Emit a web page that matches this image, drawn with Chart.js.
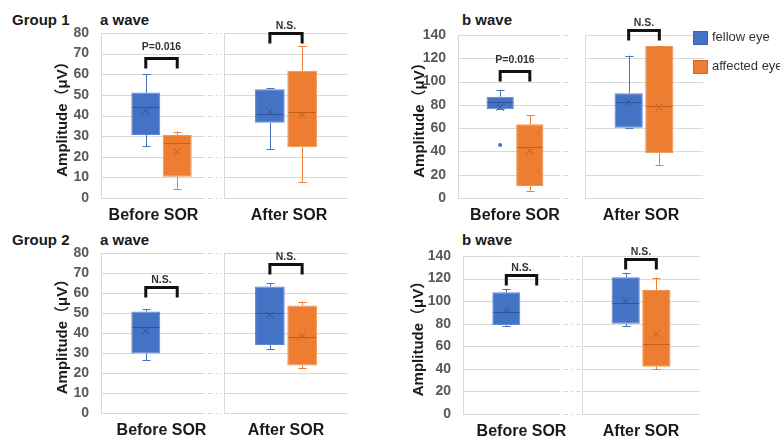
<!DOCTYPE html>
<html>
<head>
<meta charset="utf-8">
<script src="https://cdn.jsdelivr.net/npm/chart.js@4.4.0/dist/chart.umd.min.js"></script>
<style>
body{margin:0;width:780px;height:436px;background:#fff;position:relative;overflow:hidden;font-family:'Liberation Sans',Arial,sans-serif}
canvas{position:absolute}
.t{position:absolute;font-weight:bold;font-size:15px;color:#1a1a1a;line-height:17px;white-space:nowrap}
.sw{position:absolute;width:13px;height:12px;z-index:2}
.lt{position:absolute;font-size:13px;color:#333;line-height:15px;white-space:nowrap;z-index:2}
</style>
</head>
<body>
<div class="t" style="left:12px;top:11px">Group 1</div>
<div class="t" style="left:100px;top:11px">a wave</div>
<div class="t" style="left:462px;top:11px">b wave</div>
<div class="t" style="left:12px;top:231px">Group 2</div>
<div class="t" style="left:100px;top:231px">a wave</div>
<div class="t" style="left:462px;top:231px">b wave</div>

<canvas id="g1aB" width="184" height="215" style="left:40px;top:13px"></canvas>
<canvas id="g1aA" width="126" height="215" style="left:224px;top:13px"></canvas>
<canvas id="g1bB" width="174" height="215" style="left:400px;top:13px"></canvas>
<canvas id="g1bA" width="120" height="215" style="left:585px;top:13px"></canvas>
<canvas id="g2aB" width="184" height="203" style="left:40px;top:233px"></canvas>
<canvas id="g2aA" width="126" height="203" style="left:224px;top:233px"></canvas>
<canvas id="g2bB" width="182" height="203" style="left:400px;top:233px"></canvas>
<canvas id="g2bA" width="120" height="203" style="left:582px;top:233px"></canvas>

<div class="sw" style="left:693px;top:31px;background:#4472C4;border:1px solid #3a62ad"></div>
<div class="lt" style="left:712px;top:29px">fellow eye</div>
<div class="sw" style="left:693px;top:60px;background:#ED7D31;border:1px solid #d0692a"></div>
<div class="lt" style="left:712px;top:58px">affected eye</div>

<script>
const groups = ['Before SOR', 'After SOR'];
const seriesNames = ['fellow eye', 'affected eye'];

// each row: [min, Q1, median, Q3, max, mean]; first row Before SOR, second After SOR
const g1aFellow   = [[25.2, 30.5, 44.3, 51.1, 60.1, 42.3], [23.6, 36.5, 40.6, 52.7, 53.2, 41.9]];
const g1aAffected = [[4.4, 10.3, 26.8, 30.5, 32.2, 22.5], [7.9, 24.6, 41.9, 61.7, 73.7, 40.2]];
const g1bFellow   = [[76.2, 76.2, 82.2, 87.0, 92.8, 78.0], [60.2, 60.4, 82.7, 90.0, 122.3, 82.7]];
const g1bAffected = [[6.3, 10.3, 44.0, 63.3, 71.3, 40.6], [28.4, 38.4, 79.0, 130.6, 130.6, 78.0]];
const g1bFellowOutliers = [[45.5], []];
const g2aFellow   = [[26.5, 29.8, 43.2, 50.7, 52.0, 41.2], [31.8, 34.0, 50.2, 63.2, 64.8, 49.0]];
const g2aAffected = [null, [22.3, 23.7, 38.2, 53.8, 55.7, 38.5]];
const g2bFellow   = [[78.3, 78.9, 90.1, 107.8, 110.5, 92.1], [78.0, 80.0, 98.6, 121.1, 125.2, 100.1]];
const g2bAffected = [null, [39.6, 41.9, 61.8, 109.9, 120.8, 70.9]];

// height of the significance bracket (amplitude) and its label
const g1aBracket = [68, 80];
const g1bBracket = [109, 144.3];
const g2aBracket = [63.2, 74.3];
const g2bBracket = [123.2, 137.1];
const g1Sig = ['P=0.016', 'N.S.'];
const g2Sig = ['N.S.', 'N.S.'];

const aMax = 80, aStep = 10;
const bMax = 140, bStep = 20;

const gridColor = '#d9d9d9';
const fill = ['#4472C4', '#ED7D31'];
const edge = ['#5a86d6', '#f0944f'];
const dark = ['#2f5597', '#c0601f'];

function boxPlugin(p) {
    return {
        id: 'boxplot',
        beforeDatasetsDraw(chart) {
            const ctx = chart.ctx, a = chart.chartArea, y = chart.scales.y;
            ctx.save();
            ctx.lineWidth = 1;
            ctx.strokeStyle = gridColor;
            y.ticks.forEach(function (t) {
                const py = Math.round(y.getPixelForValue(t.value)) + 0.5;
                ctx.setLineDash([]);
                ctx.beginPath();
                ctx.moveTo(a.left, py);
                ctx.lineTo(a.right - p.gap, py);
                ctx.stroke();
                if (p.gap) {
                    ctx.setLineDash([5, 3, 2, 3]);
                    ctx.beginPath();
                    ctx.moveTo(a.right - p.gap + 3, py);
                    ctx.lineTo(a.right, py);
                    ctx.stroke();
                }
            });
            ctx.setLineDash([]);
            const lx = Math.round(a.left) + 0.5;
            ctx.beginPath();
            ctx.moveTo(lx, a.top);
            ctx.lineTo(lx, a.bottom);
            ctx.stroke();
            ctx.restore();
        },
        afterDatasetsDraw(chart) {
            const ctx = chart.ctx, y = chart.scales.y, x = chart.scales.x;
            ctx.save();
            for (let d = 0; d < 2; d++) {
                const s = p.stats[d];
                if (!s) continue;
                const bar = chart.getDatasetMeta(d).data[0];
                const cx = Math.round(bar.x) + 0.5, hw = bar.width / 2;
                ctx.lineWidth = 1;
                ctx.strokeStyle = fill[d];
                // whiskers
                ctx.beginPath();
                ctx.moveTo(cx, y.getPixelForValue(s[3]));
                ctx.lineTo(cx, y.getPixelForValue(s[4]));
                ctx.moveTo(cx, y.getPixelForValue(s[1]));
                ctx.lineTo(cx, y.getPixelForValue(s[0]));
                const top = Math.round(y.getPixelForValue(s[4])) + 0.5;
                const bot = Math.round(y.getPixelForValue(s[0])) + 0.5;
                ctx.moveTo(cx - 4, top); ctx.lineTo(cx + 4, top);
                ctx.moveTo(cx - 4, bot); ctx.lineTo(cx + 4, bot);
                ctx.stroke();
                // median
                ctx.strokeStyle = dark[d];
                const my = Math.round(y.getPixelForValue(s[2])) + 0.5;
                ctx.beginPath();
                ctx.moveTo(bar.x - hw + 1, my);
                ctx.lineTo(bar.x + hw - 1, my);
                ctx.stroke();
                // mean
                const mny = y.getPixelForValue(s[5]);
                ctx.beginPath();
                ctx.moveTo(bar.x - 3.5, mny - 3.5); ctx.lineTo(bar.x + 3.5, mny + 3.5);
                ctx.moveTo(bar.x + 3.5, mny - 3.5); ctx.lineTo(bar.x - 3.5, mny + 3.5);
                ctx.stroke();
                // outliers
                (p.outliers[d] || []).forEach(function (v) {
                    ctx.fillStyle = fill[d];
                    ctx.beginPath();
                    ctx.arc(bar.x, y.getPixelForValue(v), 2, 0, Math.PI * 2);
                    ctx.fill();
                });
            }
            // significance bracket between the two box centres
            const b0 = chart.getDatasetMeta(0).data[0];
            const mid = x.getPixelForValue(0);
            const x1 = b0.x, x2 = 2 * mid - b0.x;
            const by = Math.round(y.getPixelForValue(p.bracket)) + 0.5;
            ctx.strokeStyle = '#111';
            ctx.lineWidth = 3;
            ctx.lineJoin = 'miter';
            ctx.beginPath();
            ctx.moveTo(x1, by + 10);
            ctx.lineTo(x1, by);
            ctx.lineTo(x2, by);
            ctx.lineTo(x2, by + 10);
            ctx.stroke();
            ctx.fillStyle = '#333';
            ctx.font = "bold 10.5px 'Liberation Sans', Arial, sans-serif";
            ctx.textAlign = 'center';
            ctx.textBaseline = 'bottom';
            ctx.fillText(p.sig, (x1 + x2) / 2, by - (p.sig.charAt(0) === 'P' ? 6 : 2));
            ctx.restore();
        }
    };
}

function boxChart(id, p) {
    const f = p.stats[0], a = p.stats[1];
    return new Chart(document.getElementById(id), {
        type: 'bar',
        data: {
            labels: [p.label],
            datasets: [
                {label: seriesNames[0], data: [f ? [f[1], f[3]] : null], backgroundColor: fill[0], borderColor: edge[0],
                 borderWidth: 1, borderSkipped: false, categoryPercentage: 0.52, barPercentage: 0.92},
                {label: seriesNames[1], data: [a ? [a[1], a[3]] : null], backgroundColor: fill[1], borderColor: edge[1],
                 borderWidth: 1, borderSkipped: false, categoryPercentage: 0.52, barPercentage: 0.92}
            ]
        },
        options: {
            responsive: false,
            animation: false,
            events: [],
            layout: {padding: {top: p.padTop, right: 2, left: 0, bottom: 0}},
            plugins: {legend: {display: false}, tooltip: {enabled: false}},
            scales: {
                x: {
                    grid: {display: false, drawTicks: false},
                    border: {display: false},
                    ticks: {font: {size: 16, weight: 'bold', family: "'Liberation Sans', Arial, sans-serif"}, color: '#1a1a1a',
                            padding: 8, maxRotation: 0, autoSkip: false, labelOffset: p.labelOffset || 0},
                    afterFit: function (s) { s.height = p.xHeight; }
                },
                y: {
                    min: 0,
                    max: p.max,
                    grid: {display: false},
                    border: {display: false},
                    ticks: {display: p.axis, stepSize: p.step, padding: 4, color: '#595959',
                            font: {size: 14, weight: 'bold', family: "'Liberation Sans', Arial, sans-serif"}},
                    title: {display: p.axis, text: 'Amplitude（μV）', color: '#1a1a1a',
                            font: {size: 15, weight: 'bold', family: "'Liberation Sans', 'Noto Sans CJK JP', Arial, sans-serif"},
                            padding: {top: p.titlePad || 0, bottom: 0}},
                    afterFit: function (s) { s.width = p.yWidth; }
                }
            }
        },
        plugins: [boxPlugin(p)]
    });
}

// Group 1, a wave
boxChart('g1aB', {label: groups[0], stats: [g1aFellow[0], g1aAffected[0]], outliers: [[], []], bracket: g1aBracket[0], sig: g1Sig[0],
    max: aMax, step: aStep, axis: true, yWidth: 61, titlePad: 14, padTop: 20, xHeight: 30, gap: 17, labelOffset: -8});
boxChart('g1aA', {label: groups[1], stats: [g1aFellow[1], g1aAffected[1]], outliers: [[], []], bracket: g1aBracket[1], sig: g1Sig[1],
    max: aMax, step: aStep, axis: false, yWidth: 0, padTop: 20, xHeight: 30, gap: 0, labelOffset: 3});
// Group 1, b wave
boxChart('g1bB', {label: groups[0], stats: [g1bFellow[0], g1bAffected[0]], outliers: [g1bFellowOutliers[0], []], bracket: g1bBracket[0], sig: g1Sig[0],
    max: bMax, step: bStep, axis: true, yWidth: 58, titlePad: 11, padTop: 22, xHeight: 30, gap: 12});
boxChart('g1bA', {label: groups[1], stats: [g1bFellow[1], g1bAffected[1]], outliers: [g1bFellowOutliers[1], []], bracket: g1bBracket[1], sig: g1Sig[1],
    max: bMax, step: bStep, axis: false, yWidth: 0, padTop: 22, xHeight: 30, gap: 0, labelOffset: -3});
// Group 2, a wave
boxChart('g2aB', {label: groups[0], stats: [g2aFellow[0], g2aAffected[0]], outliers: [[], []], bracket: g2aBracket[0], sig: g2Sig[0],
    max: aMax, step: aStep, axis: true, yWidth: 61, titlePad: 14, padTop: 20, xHeight: 23, gap: 17});
boxChart('g2aA', {label: groups[1], stats: [g2aFellow[1], g2aAffected[1]], outliers: [[], []], bracket: g2aBracket[1], sig: g2Sig[1],
    max: aMax, step: aStep, axis: false, yWidth: 0, padTop: 20, xHeight: 23, gap: 0});
// Group 2, b wave
boxChart('g2bB', {label: groups[0], stats: [g2bFellow[0], g2bAffected[0]], outliers: [[], []], bracket: g2bBracket[0], sig: g2Sig[0],
    max: bMax, step: bStep, axis: true, yWidth: 63, titlePad: 10, padTop: 23, xHeight: 22, gap: 20});
boxChart('g2bA', {label: groups[1], stats: [g2bFellow[1], g2bAffected[1]], outliers: [[], []], bracket: g2bBracket[1], sig: g2Sig[1],
    max: bMax, step: bStep, axis: false, yWidth: 0, padTop: 23, xHeight: 22, gap: 0});
</script>
</body>
</html>
